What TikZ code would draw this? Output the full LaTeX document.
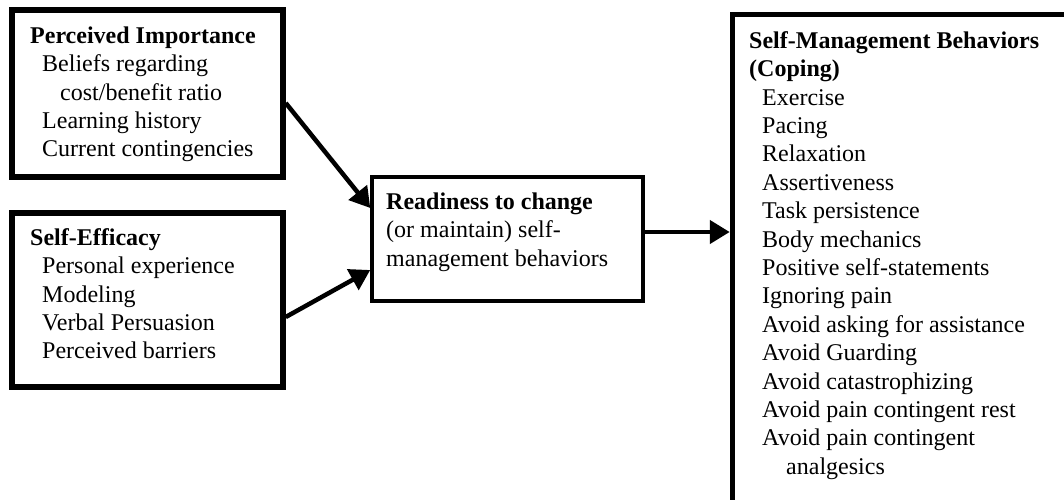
\documentclass[tikz,border=0pt]{standalone}
\usepackage{fontspec}
\setmainfont{Liberation Serif}
\usetikzlibrary{arrows.meta}
\tikzset{
  box/.style={draw, line width=5.5pt, inner sep=0pt},
  midbox/.style={draw, line width=3.5pt, inner sep=0pt},
  txt/.style={anchor=north west, inner sep=0pt, align=left, font=\fontsize{24pt}{28.4pt}\selectfont},
  conn/.style={line width=4.5pt, -{Triangle[length=20pt,width=23pt]}}
}
\newcommand{\fl}{\rule{0pt}{20pt}}
\begin{document}
\begin{tikzpicture}[x=1pt,y=1pt]
\useasboundingbox (0,0) rectangle (1064,-499);
% boxes
\node[box, minimum width=271pt, minimum height=167pt] (pi) at (147.5,-93.5) {};
\node[box, minimum width=271pt, minimum height=174pt] (se) at (147.5,-300) {};
\node[midbox, minimum width=271pt, minimum height=124pt] (rd) at (507.5,-239) {};
\node[box, minimum width=357.5pt, minimum height=515.5pt] (sm) at (911.25,-272.25) {};
% texts
\node[txt] (tpi) at (30,-23) {\fl\textbf{Perceived Importance}\\
\hspace*{12pt}Beliefs regarding\\
\hspace*{30pt}cost/benefit ratio\\
\hspace*{12pt}Learning history\\
\hspace*{12pt}Current contingencies};
\node[txt] (tse) at (30,-225) {\fl\textbf{Self-Efficacy}\\
\hspace*{12pt}Personal experience\\
\hspace*{12pt}Modeling\\
\hspace*{12pt}Verbal Persuasion\\
\hspace*{12pt}Perceived barriers};
\node[txt] (trd) at (386,-189) {\fl\textbf{Readiness to change}\\
(or maintain) self-\\
management behaviors};
\node[txt] (tsm) at (749,-28) {\fl\textbf{Self-Management Behaviors}\\
\textbf{(Coping)}\\
\hspace*{13pt}Exercise\\
\hspace*{13pt}Pacing\\
\hspace*{13pt}Relaxation\\
\hspace*{13pt}Assertiveness\\
\hspace*{13pt}Task persistence\\
\hspace*{13pt}Body mechanics\\
\hspace*{13pt}Positive self-statements\\
\hspace*{13pt}Ignoring pain\\
\hspace*{13pt}Avoid asking for assistance\\
\hspace*{13pt}Avoid Guarding\\
\hspace*{13pt}Avoid catastrophizing\\
\hspace*{13pt}Avoid pain contingent rest\\
\hspace*{13pt}Avoid pain contingent\\
\hspace*{37pt}analgesics};
% connectors
\draw[conn] ([yshift=-9.5pt]pi.east) -- ([yshift=31pt]rd.west);
\draw[conn] ([yshift=-17pt]se.east) -- ([yshift=-31pt]rd.west);
\draw[conn] ([yshift=7pt]rd.east) -- ([yshift=40.25pt]sm.west);
\end{tikzpicture}
\end{document}
